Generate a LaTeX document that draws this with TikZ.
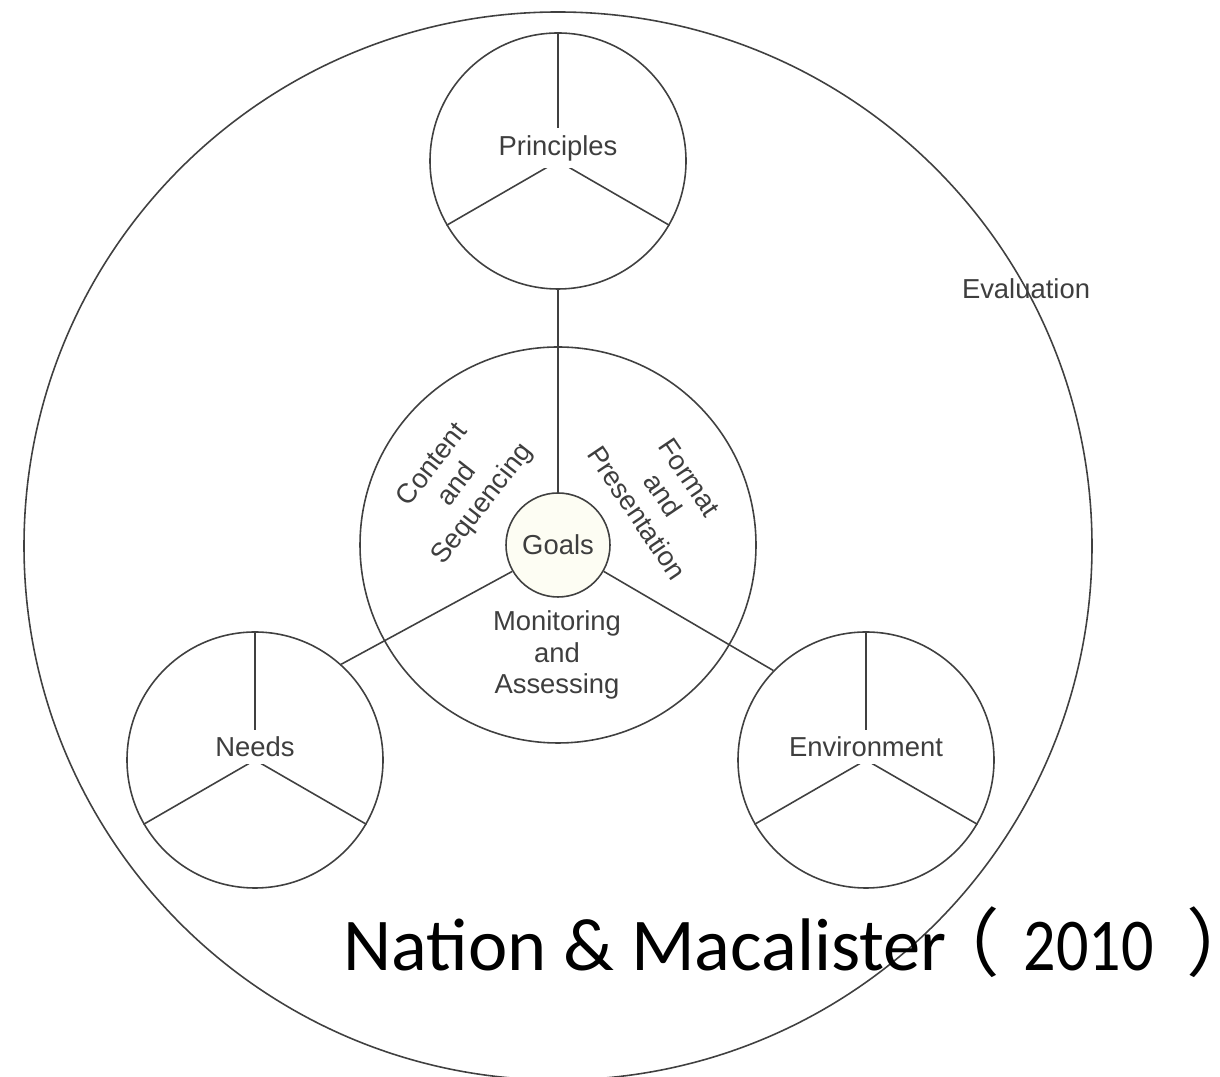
\documentclass[tikz,border=0pt]{standalone}
\usepackage{fontspec}
\setmainfont{Liberation Sans}
\newfontfamily\captionfont{Carlito}
\newfontfamily\yearfont[FakeStretch=0.86]{Carlito}
\newfontfamily\cjkfont{Noto Sans CJK SC}
\usepackage{xcolor}
\usepackage{tikz}
\definecolor{inkgray}{RGB}{64, 64, 64}
\definecolor{textgray}{RGB}{62, 62, 62}
\definecolor{goalcream}{RGB}{253, 253, 243}

\begin{document}
\begin{tikzpicture}[
    x=0.1mm, y=-0.1mm,
    ring/.style={circle, draw=inkgray, line width=0.45pt, inner sep=0pt, minimum size=25.6mm},
    line/.style={draw=inkgray, line width=0.45pt},
    txt/.style={text=textgray, font=\fontsize{7.8}{9}\selectfont, align=center, inner sep=0pt},
    tag/.style={txt, fill=white, inner xsep=1pt, inner ysep=2pt}
]
    \useasboundingbox (0,0) rectangle (1220,1077);

    \node[circle, draw=inkgray, line width=0.45pt, inner sep=0pt, minimum size=106.8mm] (evaluation) at (558,546) {};
    \node[circle, draw=inkgray, line width=0.45pt, inner sep=0pt, minimum size=39.6mm] (middle) at (558,545) {};
    \node[ring] (principles) at (558,161) {};
    \node[ring] (needs) at (255,760) {};
    \node[ring] (environment) at (866,760) {};

    \draw[line] (principles.90) -- (principles.center) -- (principles.210) (principles.center) -- (principles.330);
    \draw[line] (needs.90) -- (needs.center) -- (needs.210) (needs.center) -- (needs.330);
    \draw[line] (environment.90) -- (environment.center) -- (environment.210) (environment.center) -- (environment.330);

    \node[circle, draw=inkgray, line width=0.45pt, fill=goalcream, inner sep=0pt, minimum size=10.4mm, txt] (goals) at (558,545) {Goals};

    \draw[line] (goals.north) -- (principles.south);
    \draw[line] (goals.210) -- (needs.48);
    \draw[line] (goals.330) -- (environment.136);

    \node[tag] (principlestag) at ([yshift=1.3mm]principles.center) {Principles};
    \node[tag] (needstag) at ([yshift=1.3mm]needs.center) {Needs};
    \node[tag] (environmenttag) at ([yshift=1.3mm]environment.center) {Environment};

    \node[txt, rotate=52] (content) at (458,485) {Content\\and\\Sequencing};
    \node[txt, rotate=-56] (format) at (663,495) {Format\\and\\Presentation};
    \node[txt] (monitoring) at (557,655) {Monitoring\\and\\Assessing};
    \node[txt] (evaltag) at (1026,289) {Evaluation};

    \node[anchor=base west, inner sep=0pt, font=\captionfont\fontsize{21.2}{25}\selectfont] (source) at (343,971)
        {Nation \& Macalister\hspace{-6pt}{\cjkfont （}\hspace{6.7pt}{\yearfont 2010}\hspace{9.2pt}\makebox[0.35em][l]{\cjkfont ）}};
\end{tikzpicture}
\end{document}
